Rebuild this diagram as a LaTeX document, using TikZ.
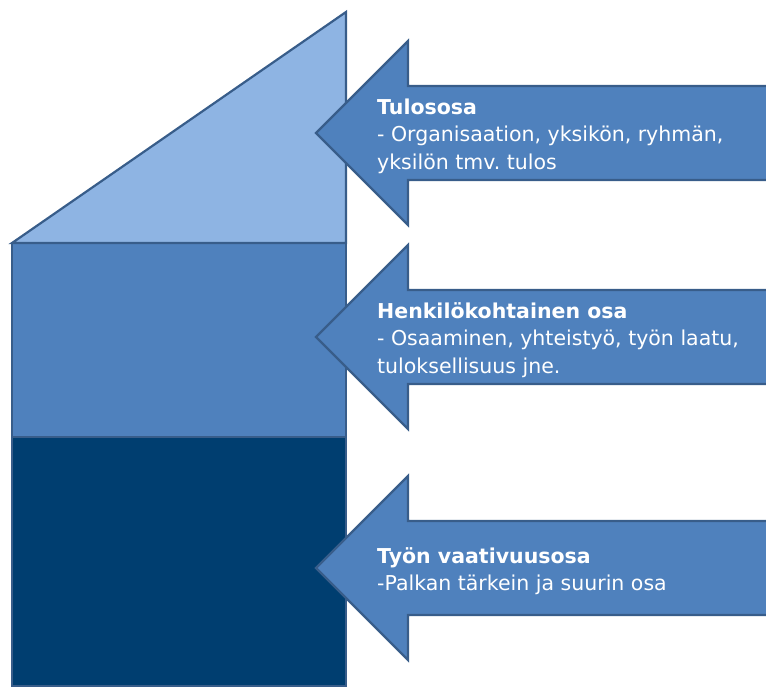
\documentclass[tikz,border=0pt]{standalone}
\usepackage{fontspec}
\setmainfont{DejaVu Sans}
\frenchspacing
\definecolor{tulos}{RGB}{142,180,227}
\definecolor{henk}{RGB}{79,129,189}
\definecolor{vaativ}{RGB}{0,62,112}
\definecolor{reuna}{RGB}{56,93,138}
\tikzset{
	osa/.style={draw=reuna, line width=2.2pt, line join=miter},
	teksti/.style={text=white, align=left, anchor=west, inner sep=0pt, font=\fontsize{20.5}{27.5}\selectfont}
}
\begin{document}
\begin{tikzpicture}[x=1pt, y=-1pt]
		\clip (0,0) rectangle (766,689);
		\draw[osa, fill=vaativ] (12,437) rectangle (346,686);
		\draw[osa, fill=henk] (12,243) rectangle (346,437);
		\draw[osa, fill=tulos] (12,243) -- (346,12) -- (346,243) -- cycle;

		\foreach \y/\nimi/\teksti in {
				133/tulososa/{\textbf{Tulososa}\\- Organisaation, yksikön, ryhmän,\\yksilön tmv. tulos},
				337/henkosa/{\textbf{Henkilökohtainen osa}\\- Osaaminen, yhteistyö, työn laatu,\\tuloksellisuus jne.},
				568/vaativosa/{\textbf{Työn vaativuusosa}\\-Palkan tärkein ja suurin osa}}{
				\draw[osa, fill=henk] (790,\y-47) -- (408,\y-47) -- (408,\y-92) -- (316,\y) -- (408,\y+92) -- (408,\y+47) -- (790,\y+47) -- cycle;
				\node[teksti] (\nimi) at (377,\y+3) {\teksti};
		}
\end{tikzpicture}
\end{document}
